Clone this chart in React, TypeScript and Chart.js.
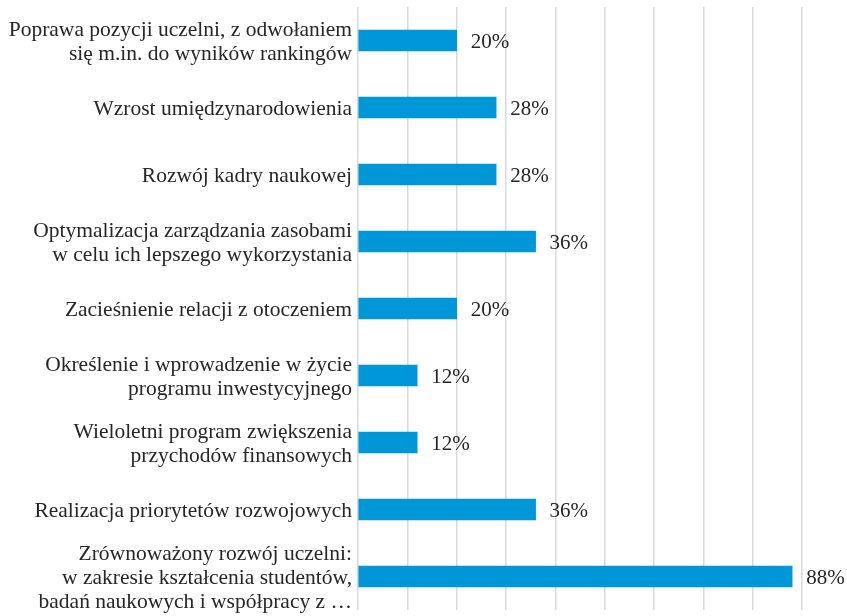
import React, { useEffect, useRef } from "react";
import { Chart, registerables } from "chart.js";

Chart.register(...registerables);

const categories: string[][] = [
  ["Poprawa pozycji uczelni, z odwołaniem", "się m.in. do wyników rankingów"],
  ["Wzrost umiędzynarodowienia"],
  ["Rozwój kadry naukowej"],
  ["Optymalizacja zarządzania zasobami", "w celu ich lepszego wykorzystania"],
  ["Zacieśnienie relacji z otoczeniem"],
  ["Określenie i wprowadzenie w życie", "programu inwestycyjnego"],
  ["Wieloletni program zwiększenia", "przychodów finansowych"],
  ["Realizacja priorytetów rozwojowych"],
  ["Zrównoważony rozwój uczelni:", "w zakresie kształcenia studentów,", "badań naukowych i współpracy z …"],
];

const values: number[] = [20, 28, 28, 36, 20, 12, 12, 36, 88];

const FONT = "'Liberation Serif', 'Times New Roman', serif";
const TEXT = "#262626";

const valueLabels = {
  id: "valueLabels",
  afterDatasetsDraw(chart: any) {
    const ctx = chart.ctx;
    const meta = chart.getDatasetMeta(0);
    ctx.save();
    ctx.font = `21px ${FONT}`;
    ctx.fillStyle = TEXT;
    ctx.textAlign = "left";
    ctx.textBaseline = "middle";
    meta.data.forEach((bar: any, i: number) => {
      ctx.fillText(`${values[i]}%`, bar.x + 14, bar.y + 2);
    });
    ctx.restore();
  },
};

export default function App() {
  const ref = useRef<HTMLCanvasElement | null>(null);
  useEffect(() => {
    if (!ref.current) return;
    const chart = new Chart(ref.current, {
      type: "bar",
      data: {
        labels: categories,
        datasets: [
          {
            data: values,
            backgroundColor: "#0097d8",
            borderWidth: 0,
            barThickness: 21,
          },
        ],
      },
      options: {
        indexAxis: "y",
        animation: false,
        responsive: false,
        maintainAspectRatio: false,
        layout: { padding: { top: 7, bottom: 6, left: 0, right: 45 } },
        plugins: { legend: { display: false }, tooltip: { enabled: false } },
        scales: {
          x: {
            min: 0,
            max: 90,
            ticks: { display: false, stepSize: 10 },
            grid: { color: "#d9d9d9", lineWidth: 1.5, drawTicks: false },
            border: { display: false },
          },
          y: {
            grid: { display: false, tickLength: 0 },
            border: { display: false },
            ticks: {
              autoSkip: false,
              color: TEXT,
              font: { family: FONT, size: 21.5, lineHeight: 1.12 },
              padding: 6,
              labelOffset: 2,
            },
            afterFit(scale: any) {
              scale.width = 358;
              scale.paddingTop = 0;
              scale.paddingBottom = 0;
            },
          },
        },
      },
      plugins: [valueLabels],
    });
    return () => chart.destroy();
  }, []);
  return (
    <div style={{ position: "fixed", left: 0, top: 0, width: 847, height: 616, background: "#fff" }}>
      <canvas ref={ref} width={847} height={616} style={{ width: 847, height: 616 }} />
    </div>
  );
}
